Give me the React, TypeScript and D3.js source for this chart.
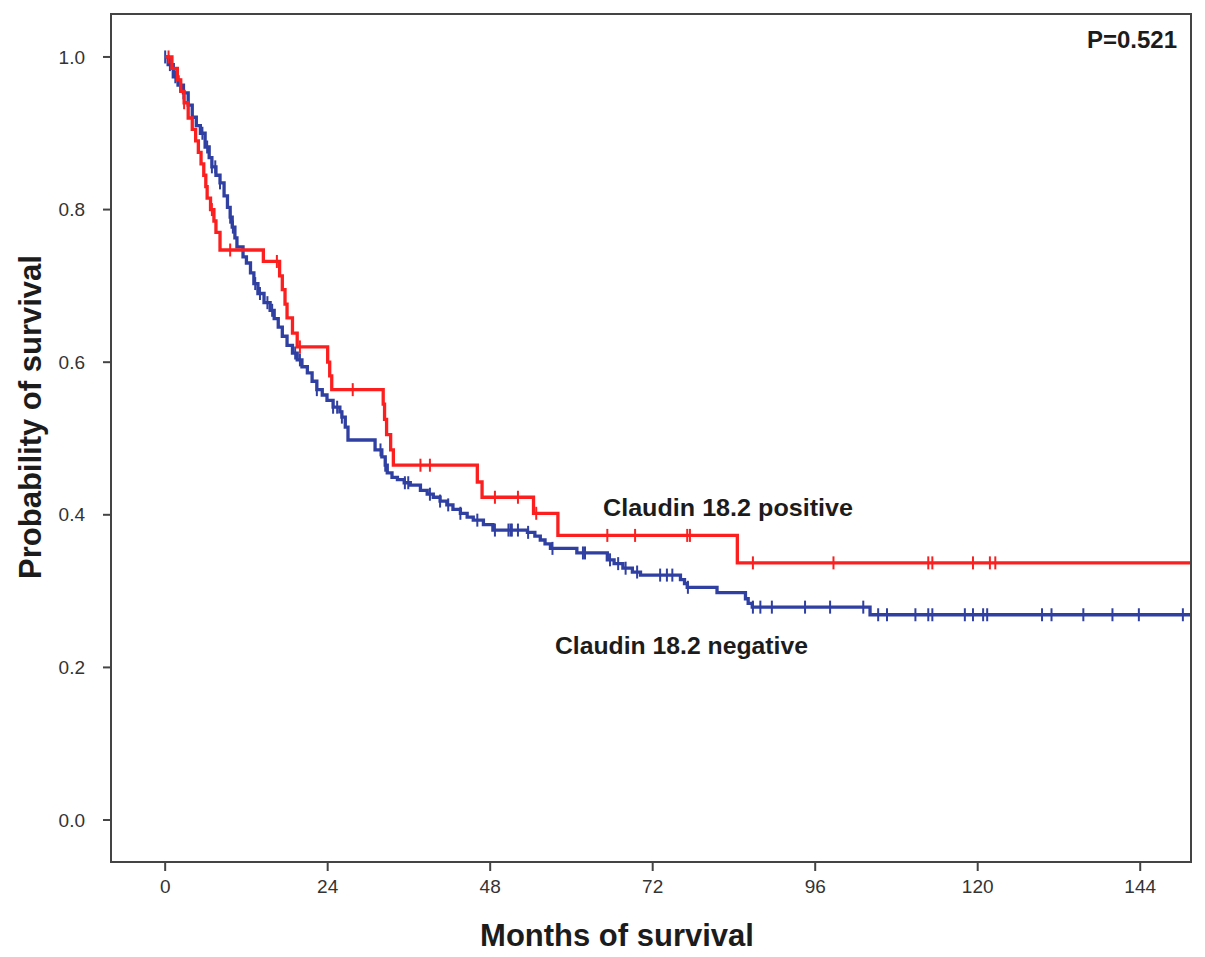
import * as d3 from "d3";

// Kaplan-Meier steps: month at which survival drops, survival after drop
const posTimes = [0, 1.0, 1.8, 2.3, 2.8, 3.4, 4.0, 4.5, 4.9, 5.3, 5.7, 6.0, 6.2, 6.7, 7.2, 7.5, 8.1, 14.5, 16.9, 17.3, 17.7, 18.0, 18.8, 19.5, 24.0, 24.3, 24.6, 32.2, 32.4, 32.7, 33.3, 33.7, 46.1, 46.8, 54.4, 58.0, 84.5];
const posSurv = [1.0, 0.985, 0.97, 0.955, 0.94, 0.92, 0.905, 0.89, 0.875, 0.86, 0.845, 0.83, 0.815, 0.8, 0.785, 0.77, 0.747, 0.732, 0.713, 0.695, 0.676, 0.658, 0.638, 0.62, 0.6, 0.582, 0.564, 0.545, 0.525, 0.505, 0.485, 0.465, 0.443, 0.423, 0.402, 0.373, 0.337];
const posCensored = [0.5, 2.8, 6.9, 9.6, 16.5, 19.9, 27.7, 37.7, 39.1, 48.7, 52.1, 54.8, 65.3, 69.4, 77.1, 77.5, 86.8, 98.7, 112.7, 113.3, 119.3, 121.8, 122.6];

const negTimes = [0, 0.44, 1.2, 1.9, 2.7, 3.4, 4.0, 4.6, 5.2, 5.9, 6.5, 6.9, 7.5, 8.1, 8.7, 9.2, 9.6, 9.9, 10.3, 10.6, 11.5, 12.0, 12.6, 13.1, 13.7, 14.6, 15.5, 16.1, 16.7, 17.3, 18.0, 18.8, 19.5, 20.2, 21.0, 21.7, 22.4, 23.2, 23.9, 24.8, 25.8, 26.1, 26.6, 27.0, 31.0, 32.0, 32.5, 32.8, 33.5, 34.3, 35.3, 36.2, 37.7, 38.7, 39.6, 40.6, 41.6, 42.5, 43.6, 44.6, 45.5, 47.0, 48.4, 53.5, 54.6, 55.4, 56.1, 56.9, 60.8, 65.3, 66.3, 67.6, 69.0, 70.2, 76.1, 76.7, 77.1, 81.5, 85.7, 86.1, 86.7, 104.1];
const negSurv = [1.0, 0.99, 0.974, 0.963, 0.953, 0.937, 0.921, 0.91, 0.9, 0.882, 0.868, 0.856, 0.845, 0.835, 0.818, 0.803, 0.79, 0.777, 0.763, 0.751, 0.738, 0.73, 0.717, 0.703, 0.69, 0.678, 0.668, 0.657, 0.646, 0.634, 0.622, 0.612, 0.603, 0.594, 0.586, 0.575, 0.564, 0.557, 0.55, 0.541, 0.535, 0.528, 0.515, 0.498, 0.485, 0.476, 0.465, 0.455, 0.449, 0.446, 0.442, 0.439, 0.432, 0.427, 0.423, 0.418, 0.413, 0.407, 0.402, 0.397, 0.393, 0.387, 0.38, 0.377, 0.372, 0.367, 0.362, 0.356, 0.35, 0.341, 0.336, 0.33, 0.325, 0.321, 0.315, 0.31, 0.305, 0.298, 0.29, 0.284, 0.279, 0.269];
const negCensored = [0.0, 0.7, 1.5, 2.2, 2.7, 5.5, 6.2, 6.9, 7.4, 8.1, 9.6, 10.0, 13.3, 14.0, 15.1, 15.8, 19.2, 19.9, 22.4, 24.8, 25.4, 26.1, 31.8, 32.5, 35.4, 35.9, 39.1, 40.6, 41.8, 43.6, 46.1, 48.7, 50.7, 51.0, 51.2, 52.1, 53.6, 57.2, 61.7, 62.0, 65.7, 66.9, 68.0, 69.7, 73.1, 74.1, 74.9, 77.2, 86.8, 87.9, 89.6, 94.5, 98.2, 103.1, 105.3, 106.6, 110.8, 112.7, 113.3, 118.1, 119.3, 120.8, 121.4, 129.5, 130.9, 135.6, 139.9, 143.8, 150.3];

const xTicks = [0, 24, 48, 72, 96, 120, 144];
const yTicks = [0, 0.2, 0.4, 0.6, 0.8, 1.0];

const W = 1205;
const H = 957;
const frame = { left: 111, top: 14, right: 1191, bottom: 862 };
const RED = "#fb1f1f";
const BLUE = "#2f3fa2";
const INK = "#1c1c1c";
const FONT = "'Liberation Sans', Arial, sans-serif";

const x = d3.scaleLinear().domain([-8, 151.5]).range([frame.left, frame.right]);
const y = d3.scaleLinear().domain([-0.055, 1.0563]).range([frame.bottom, frame.top]);

const stepLine = d3
  .line<[number, number]>()
  .x((d) => x(d[0]))
  .y((d) => y(d[1]))
  .curve(d3.curveStepAfter);

// survival at time t for a step curve
const survAt = (times: number[], surv: number[], t: number) => {
  const i = d3.bisectRight(times, t) - 1;
  return surv[Math.max(0, i)];
};

const Curve = ({ times, surv, censored, color }: { times: number[]; surv: number[]; censored: number[]; color: string }) => {
  const end = x.domain()[1];
  const pts: [number, number][] = times.map((t, i) => [t, surv[i]]);
  pts.push([end, surv[surv.length - 1]]);
  return (
    <g>
      <path d={stepLine(pts) ?? ""} fill="none" stroke={color} strokeWidth={3.3} strokeLinejoin="miter" />
      {censored.map((t, i) => {
        const cy = y(survAt(times, surv, t));
        return <line key={i} x1={x(t)} x2={x(t)} y1={cy - 6.5} y2={cy + 6.5} stroke={color} strokeWidth={2} />;
      })}
    </g>
  );
};

const App = () => {
  return (
    <svg width={W} height={H} style={{ position: "absolute", left: 0, top: 0, background: "#fff" }} fontFamily={FONT}>
      <rect x={0} y={0} width={W} height={H} fill="#fff" />

      {/* y axis ticks */}
      {yTicks.map((v) => (
        <g key={v}>
          <line x1={frame.left - 8} x2={frame.left} y1={y(v)} y2={y(v)} stroke="#444" strokeWidth={2} />
          <text x={frame.left - 26} y={y(v)} dy="0.35em" textAnchor="end" fontSize={19} fill="#333">
            {d3.format(".1f")(v)}
          </text>
        </g>
      ))}

      {/* x axis ticks */}
      {xTicks.map((v) => (
        <g key={v}>
          <line x1={x(v)} x2={x(v)} y1={frame.bottom} y2={frame.bottom + 9} stroke="#444" strokeWidth={2} />
          <text x={x(v)} y={frame.bottom + 31} textAnchor="middle" fontSize={19} fill="#333">
            {v}
          </text>
        </g>
      ))}

      <Curve times={negTimes} surv={negSurv} censored={negCensored} color={BLUE} />
      <Curve times={posTimes} surv={posSurv} censored={posCensored} color={RED} />

      <rect
        x={frame.left}
        y={frame.top}
        width={frame.right - frame.left}
        height={frame.bottom - frame.top}
        fill="none"
        stroke="#444"
        strokeWidth={2}
      />

      <text x={1177} y={48} textAnchor="end" fontSize={24} fontWeight="bold" fill={INK}>
        P=0.521
      </text>
      <text x={603} y={516} fontSize={19} fontWeight="bold" fill={INK} textLength={250} lengthAdjust="spacingAndGlyphs" style={{ fontSize: 24 }}>
        Claudin 18.2 positive
      </text>
      <text x={555} y={654} fontWeight="bold" fill={INK} textLength={253} lengthAdjust="spacingAndGlyphs" style={{ fontSize: 24 }}>
        Claudin 18.2 negative
      </text>

      <text x={617} y={946} textAnchor="middle" fontSize={31} fontWeight="bold" fill={INK}>
        Months of survival
      </text>
      <text
        transform={`translate(41, ${417}) rotate(-90)`}
        textAnchor="middle"
        fontSize={31}
        fontWeight="bold"
        fill={INK}
      >
        Probability of survival
      </text>
    </svg>
  );
};

export default App;
